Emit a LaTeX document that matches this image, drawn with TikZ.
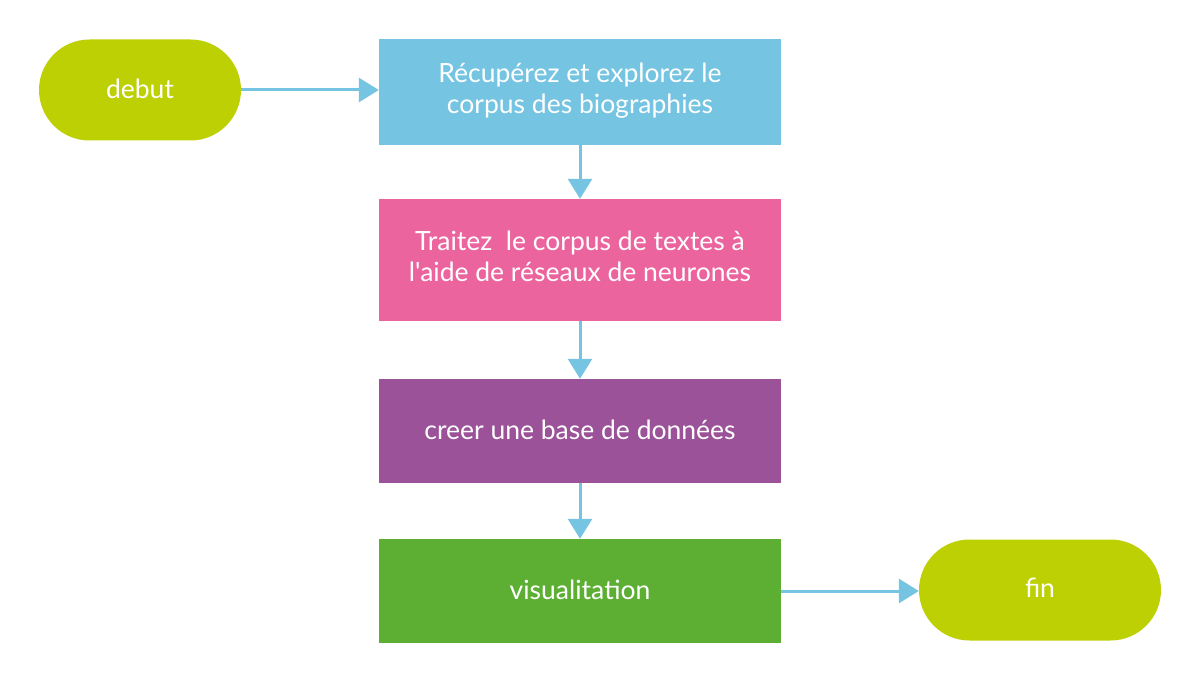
\documentclass[tikz,border=0pt]{standalone}
\usepackage{fontspec}
\newfontfamily\lato{Lato}
\usetikzlibrary{arrows.meta}
\definecolor{cblue}{HTML}{74C4E2}
\definecolor{cpink}{HTML}{EC649E}
\definecolor{cpurple}{HTML}{9B5299}
\definecolor{cgreen}{HTML}{5DAF33}
\definecolor{clime}{HTML}{BDD003}
\newcommand\twolines[3]{\raisebox{#1}{\begin{tabular}{@{}c@{}}#2\\#3\end{tabular}}}
\tikzset{
  stadium/.style={fill=clime, draw=none, rounded corners=50.5pt, minimum width=202pt, minimum height=101pt, inner sep=0pt, text=white, font=\lato\fontsize{26.5}{31}\selectfont},
  procbox/.style={draw=none, minimum width=402pt, inner sep=0pt, text=white, align=center, font=\lato\fontsize{26.5}{31}\selectfont},
  conn/.style={draw=cblue, line width=3pt, -{Triangle[length=20pt,width=24pt]}}
}
\begin{document}
\begin{tikzpicture}[x=1pt,y=-1pt]
\useasboundingbox (0,0) rectangle (1200,682);
\node[stadium] (debut) at (140,90) {\raisebox{3pt}{debut}};
\node[procbox, fill=cblue, minimum height=106pt] (b1) at (580,92) {\twolines{2pt}{Récupérez et explorez le}{corpus des biographies}};
\node[procbox, fill=cpink, minimum height=122pt] (b2) at (580,260) {\twolines{4.5pt}{Traitez~\ le corpus de textes à}{l'aide de réseaux de neurones}};
\node[procbox, fill=cpurple, minimum height=104pt] (b3) at (580,431) {\raisebox{2pt}{creer une base de données}};
\node[procbox, fill=cgreen, minimum height=104pt] (b4) at (580,591) {\raisebox{2pt}{visualitation}};
\node[stadium, minimum width=242pt] (fin) at (1040,590) {\raisebox{4pt}{fin}};
\draw[conn] (debut.east) -- (b1.west |- debut.east);
\draw[conn] (b1.south) -- (b2.north);
\draw[conn] (b2.south) -- (b3.north);
\draw[conn] (b3.south) -- (b4.north);
\draw[conn] (b4.east |- 0,591) -- (fin.west |- 0,591);
\end{tikzpicture}
\end{document}
